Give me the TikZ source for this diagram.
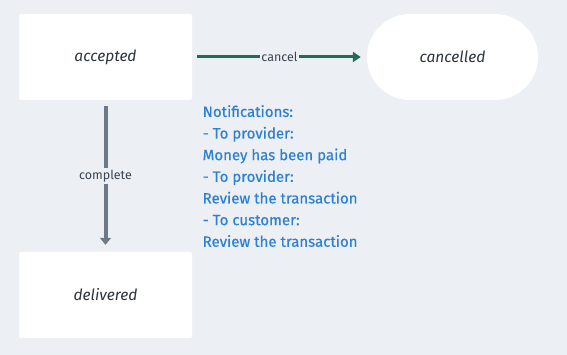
\documentclass[tikz,border=0pt]{standalone}
\usepackage{fontspec}
\setmainfont{Fira Sans}
\newfontfamily\notefont{Fira Sans}[FakeBold=0.5]
\usetikzlibrary{arrows.meta, positioning}
\definecolor{bgcolor}{RGB}{236,240,244}
\definecolor{statetext}{RGB}{45,52,62}
\definecolor{labeltext}{RGB}{58,68,80}
\definecolor{cancelcolor}{RGB}{30,108,88}
\definecolor{completecolor}{RGB}{108,121,136}
\definecolor{notecolor}{RGB}{45,128,212}

\begin{document}
\begin{tikzpicture}[
    x=1pt, y=1pt,
    >={Triangle[length=8pt, width=10pt]},
    state/.style={fill=white, rounded corners=2pt, minimum width=173pt, minimum height=86pt, inner sep=0pt, text=statetext, font=\itshape\fontsize{15.5}{18}\selectfont},
    edgelabel/.style={fill=bgcolor, inner sep=1.5pt, text=labeltext, font=\fontsize{12.5}{14}\selectfont},
]
    % Background
    \fill[bgcolor] (0,0) rectangle (567,355);
    \useasboundingbox (0,0) rectangle (567,355);

    % States
    \node[state] (accepted) at (105.5,298) {accepted};
    \node[state, minimum width=171pt, rounded corners=43pt] (cancelled) at (452.5,298) {cancelled};
    \node[state] (delivered) at (105.5,60) {delivered};

    % Transitions
    \draw[->, line width=3pt, cancelcolor, shorten <=5pt, shorten >=6pt] (accepted) -- node[edgelabel] {cancel} (cancelled);
    \draw[->, line width=4pt, completecolor, shorten <=6pt, shorten >=7pt, >={Triangle[length=7pt, width=11pt]}] (accepted) -- node[edgelabel] {complete} (delivered);

    % Notifications
    \node[anchor=north west, inner sep=0pt, align=left, text=notecolor, font=\notefont\fontsize{15}{21.65}\selectfont] (notes) at (202.5,250) {Notifications:\\- To provider:\\Money has been paid\\- To provider:\\Review the transaction\\- To customer:\\Review the transaction};
\end{tikzpicture}
\end{document}
